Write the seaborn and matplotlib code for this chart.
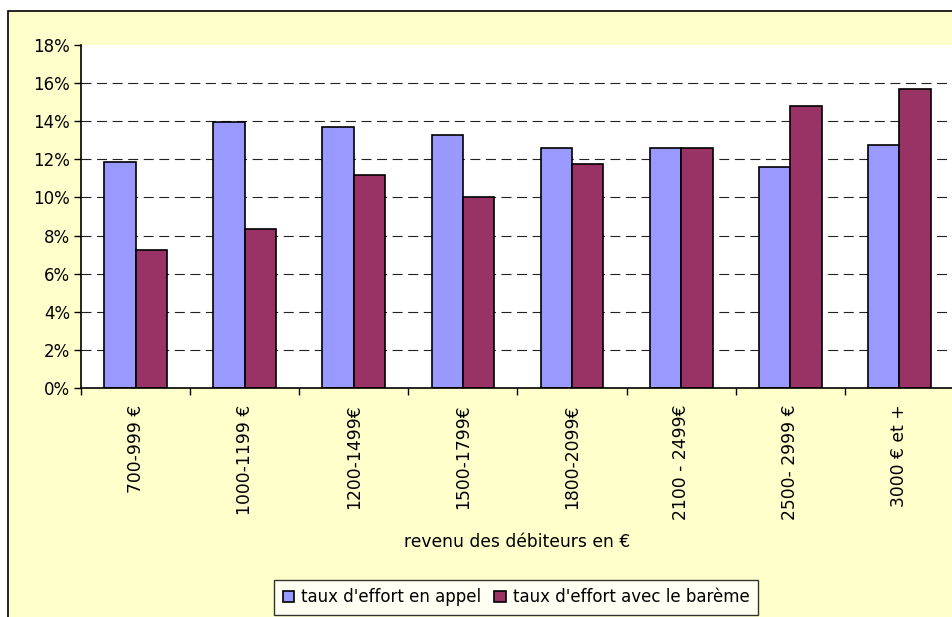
import matplotlib
matplotlib.use("Agg")
import matplotlib.pyplot as plt
import seaborn as sns
import pandas as pd
from matplotlib.patches import Rectangle
from matplotlib.ticker import PercentFormatter, FixedLocator

categories = ["700-999 €", "1000-1199 €", "1200-1499€", "1500-1799€",
              "1800-2099€", "2100 - 2499€", "2500- 2999 €", "3000 € et +"]
taux_appel = [0.1185, 0.1396, 0.1370, 0.1330, 0.1260, 0.1260, 0.1159, 0.1277]
taux_bareme = [0.0722, 0.0832, 0.1117, 0.1000, 0.1176, 0.1260, 0.1479, 0.1571]
series_names = ["taux d'effort en appel", "taux d'effort avec le barème"]
colors = ["#9999FF", "#993366"]
y_ticks = [0, 0.02, 0.04, 0.06, 0.08, 0.10, 0.12, 0.14, 0.16, 0.18]

df = pd.DataFrame({
    "cat": categories * 2,
    "val": taux_appel + taux_bareme,
    "serie": [series_names[0]] * len(categories) + [series_names[1]] * len(categories),
})

sns.set_style("white")
plt.rcParams["font.family"] = ["DejaVu Sans"]
plt.rcParams["text.color"] = "black"
plt.rcParams["axes.labelcolor"] = "black"
plt.rcParams["xtick.color"] = "black"
plt.rcParams["ytick.color"] = "black"

W, H = 953, 617
fig = plt.figure(figsize=(W / 100, H / 100), dpi=100)
fig.patch.set_facecolor("white")
bg = Rectangle((8 / W, -0.05), 2, 1.05 - 11 / H, transform=fig.transFigure,
               facecolor="#FFFFCC", edgecolor="black", linewidth=1.2, zorder=-10)
fig.patches.append(bg)

ax_h = 388 - 45
ax = fig.add_axes([81 / W, 1 - 388 / H, 873 / W, ax_h / H])
ax.set_zorder(2)
ax.set_facecolor("white")

sns.barplot(data=df, x="cat", y="val", hue="serie", palette=colors,
            saturation=1, width=0.575, edgecolor="black", linewidth=1.2, ax=ax,
            order=categories, hue_order=series_names, legend=True, zorder=3)

ax.set_ylim(0, 0.18)
ax.set_xlim(-0.5, len(categories) - 0.5)
ax.yaxis.set_major_locator(FixedLocator(y_ticks))
ax.yaxis.set_major_formatter(PercentFormatter(1.0, decimals=0))
for t in y_ticks[1:-1]:
    ax.axhline(t, color="#222222", linewidth=0.8, linestyle=(0, (9, 5)), zorder=1)

ax.tick_params(axis="y", direction="out", length=5, width=1, color="black",
               labelcolor="black", labelsize=12, pad=3, left=True)
ax.set_xticks(range(len(categories)))
ax.set_xticklabels(categories, rotation=90, fontsize=12.3, color="black")
ax.tick_params(axis="x", which="major", length=0, pad=12)
ax.set_xticks([i - 0.5 for i in range(len(categories) + 1)], minor=True)
ax.tick_params(axis="x", which="minor", direction="out", length=5, width=1,
               color="black", bottom=True)

for s in ["top", "right"]:
    ax.spines[s].set_visible(False)
for s in ["left", "bottom"]:
    ax.spines[s].set_color("black")
    ax.spines[s].set_linewidth(1.2)
    ax.spines[s].set_zorder(5)

ax.set_ylabel("")
ax.set_xlabel("revenu des débiteurs en €", fontsize=12.3, color="black")
ax.xaxis.set_label_coords(0.5, (388 - 533) / ax_h)

handles, labels = ax.get_legend_handles_labels()
ax.get_legend().remove()
leg = fig.legend(handles, labels, loc="upper center",
                 bbox_to_anchor=(516 / W, 1 - 580 / H), ncol=2, fontsize=12,
                 frameon=True, fancybox=False, edgecolor="black",
                 handlelength=0.7, handleheight=0.7, handletextpad=0.4,
                 columnspacing=0.8, borderpad=0.5, borderaxespad=0)
leg.get_frame().set_linewidth(1)
leg.get_frame().set_facecolor("white")
for txt in leg.get_texts():
    txt.set_color("black")

fig.savefig("out.png", dpi=100, facecolor=fig.get_facecolor())
